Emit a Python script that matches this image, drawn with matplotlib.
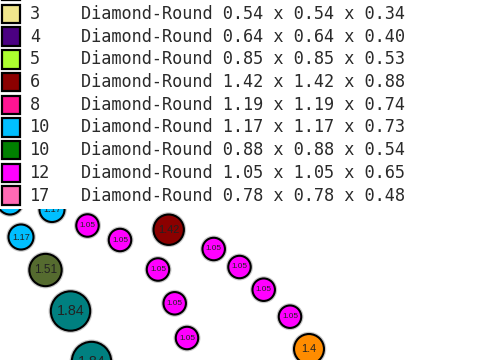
import matplotlib
matplotlib.use("Agg")
import matplotlib.pyplot as plt
from matplotlib.patches import Circle, Rectangle

# =====================================
# Legend data (count, colour, size)
# =====================================

legend_counts = [3, 4, 5, 6, 8, 10, 10, 12, 17]
legend_colors = ["#F0E68C", "#4B0082", "#ADFF2F", "#8B0000", "#FF1493",
                 "#00BFFF", "#008000", "#FF00FF", "#FF69B4"]
legend_shape = "Diamond-Round"
legend_len = [0.54, 0.64, 0.85, 1.42, 1.19, 1.17, 0.88, 1.05, 0.78]
legend_wid = [0.54, 0.64, 0.85, 1.42, 1.19, 1.17, 0.88, 1.05, 0.78]
legend_dep = [0.34, 0.40, 0.53, 0.88, 0.74, 0.73, 0.54, 0.65, 0.48]

# =====================================
# Stone layout (position in px, diameter, colour)
# =====================================

stone_x = [10, 52, 21, 45.5, 70.5, 91.5, 87.5, 120, 168.7, 158, 174.7,
           187, 213.7, 239.5, 263.7, 290, 309]
stone_y = [202, 209.5, 237, 270, 311, 361.5, 225.5, 240, 229.7, 269.5,
           303.3, 338, 249, 267, 289.7, 316.7, 349]
stone_d = [1.17, 1.17, 1.17, 1.51, 1.84, 1.84, 1.05, 1.05, 1.42, 1.05,
           1.05, 1.05, 1.05, 1.05, 1.05, 1.05, 1.4]
stone_c = ["#00BFFF", "#00BFFF", "#00BFFF", "#556B2F", "#008080", "#008080",
           "#FF00FF", "#FF00FF", "#8B0000", "#FF00FF", "#FF00FF", "#FF00FF",
           "#FF00FF", "#FF00FF", "#FF00FF", "#FF00FF", "#FF8C00"]

px_per_unit = 10.7

# =====================================
# Figure
# =====================================

fig = plt.figure(figsize=(4.8, 3.6), dpi=100)
ax = fig.add_axes([0, 0, 1, 1])
ax.set_xlim(0, 480)
ax.set_ylim(360, 0)
ax.axis("off")

for x, y, d, c in zip(stone_x, stone_y, stone_d, stone_c):
    r = d * px_per_unit
    ax.add_patch(Circle((x, y), r, facecolor=c, edgecolor="#C8C8C8",
                        linewidth=3.2, zorder=1))
    ax.add_patch(Circle((x, y), r, facecolor=c, edgecolor="black",
                        linewidth=1.5, zorder=2))
    ax.text(x, y, f"{d:g}", ha="center", va="center",
            fontsize=5.6 * d, color="#222222",
            family="Liberation Sans", zorder=3)

# =====================================
# Legend block (covers stones underneath)
# =====================================

ax.add_patch(Rectangle((0, 0), 430, 209, facecolor="white",
                       edgecolor="none", zorder=5))
ax.add_patch(Rectangle((2, -12), 18, 12, facecolor="#FF00FF",
                       edgecolor="black", linewidth=1.6, zorder=6))

row_y0 = 14
row_step = 22.7
for i, cnt in enumerate(legend_counts):
    y = row_y0 + i * row_step
    ax.add_patch(Rectangle((2, y - 9.3), 18, 18.6,
                           facecolor=legend_colors[i], edgecolor="black",
                           linewidth=1.6, zorder=6))
    ax.text(30, y, str(cnt), ha="left", va="center",
            fontsize=12.2, family="DejaVu Sans Mono",
            color="#2A2A2A", zorder=7)
    label = (f"{legend_shape} {legend_len[i]:.2f} x "
             f"{legend_wid[i]:.2f} x {legend_dep[i]:.2f}")
    ax.text(81, y, label, ha="left", va="center",
            fontsize=12.2, family="DejaVu Sans Mono",
            color="#2A2A2A", zorder=7)

fig.savefig("out.png", dpi=100)
